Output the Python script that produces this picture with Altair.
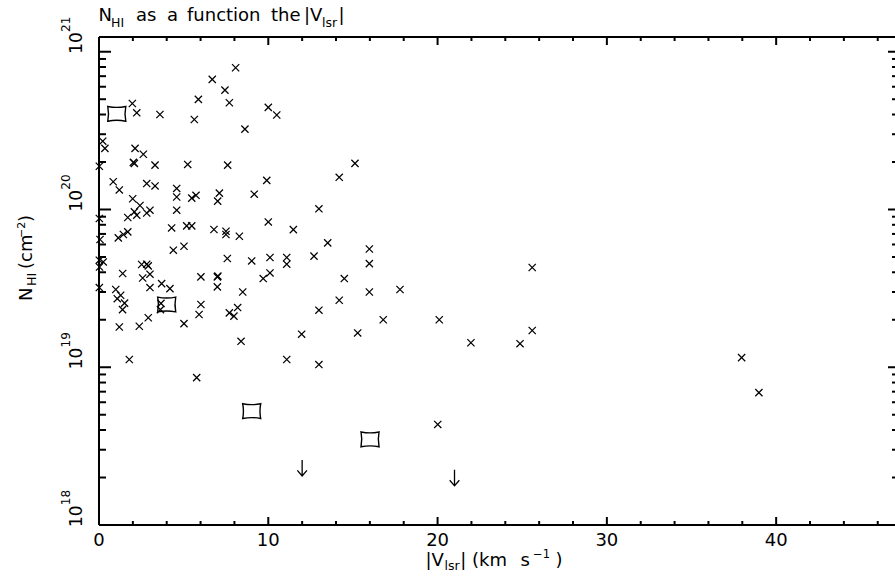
import altair as alt
import pandas as pd

FONT = "DejaVu Sans"

# ---------------- data ----------------
cross_v = [1.97, 2.23, 3.60, 0.22, 0.35, 2.13, 2.62, 2.03, 2.09, 3.31,
           0.02, 0.84, 1.20, 2.82, 3.31, 1.99, 2.42, 1.70, 2.09, 2.23,
           2.82, 3.01, 0.02, 4.59, 4.59, 4.59, 5.48, 5.73, 5.24, 5.63,
           5.87, 6.69, 7.44, 7.70, 8.07, 8.62, 7.60, 7.11, 7.01, 9.17,
           9.91, 10.00, 10.50, 10.00, 4.29, 5.18, 5.48, 6.79, 7.50, 7.50,
           8.29, 1.14, 1.44, 1.70, 0.06, 4.39, 5.02, 0.02, 0.25, 0.03,
           1.40, 2.52, 2.82, 2.91, 2.58, 3.01, 3.01, 3.70, 4.19, 0.02,
           0.99, 1.28, 1.08, 1.51, 1.39, 3.66, 3.63, 2.91, 1.20, 2.38,
           1.79, 5.02, 6.02, 6.99, 7.02, 6.99, 6.02, 5.91, 7.58, 9.02,
           10.10, 11.09, 11.09, 10.10, 9.70, 8.49, 8.19, 7.70, 7.97, 8.39,
           11.09, 5.77, 15.12, 14.19, 12.99, 11.48, 13.51, 15.97, 12.70, 15.97,
           14.49, 15.97, 17.78, 14.19, 12.99, 16.79, 20.10, 11.97, 15.28, 21.97,
           12.99, 25.59, 25.59, 24.87, 37.96, 38.98, 20.01]
cross_n = [4.7e20, 4.1e20, 4.0e20, 2.71e20, 2.44e20, 2.44e20, 2.24e20, 1.99e20, 1.96e20, 1.91e20,
           1.88e20, 1.50e20, 1.33e20, 1.46e20, 1.41e20, 1.17e20, 1.06e20, 8.9e19, 9.66e19, 9.2e19,
           9.5e19, 9.9e19, 8.77e19, 1.36e20, 1.20e20, 9.9e19, 1.18e20, 1.23e20, 1.93e20, 3.72e20,
           4.99e20, 6.68e20, 5.71e20, 4.75e20, 7.92e20, 3.23e20, 1.91e20, 1.27e20, 1.13e20, 1.25e20,
           1.53e20, 4.44e20, 3.97e20, 8.34e19, 7.64e19, 7.87e19, 7.87e19, 7.47e19, 7.28e19, 6.94e19,
           6.77e19, 6.61e19, 6.94e19, 7.21e19, 6.45e19, 5.52e19, 5.85e19, 4.77e19, 4.65e19, 4.32e19,
           3.93e19, 4.48e19, 4.50e19, 4.39e19, 3.68e19, 3.89e19, 3.20e19, 3.39e19, 3.15e19, 3.20e19,
           3.11e19, 2.86e19, 2.72e19, 2.55e19, 2.32e19, 2.54e19, 2.32e19, 2.06e19, 1.80e19, 1.82e19,
           1.12e19, 1.89e19, 3.74e19, 3.74e19, 3.78e19, 3.23e19, 2.50e19, 2.16e19, 4.89e19, 4.72e19,
           4.96e19, 4.96e19, 4.50e19, 3.96e19, 3.65e19, 3.00e19, 2.39e19, 2.21e19, 2.11e19, 1.46e19,
           1.12e19, 8.59e18, 1.96e20, 1.60e20, 1.01e20, 7.45e19, 6.14e19, 5.62e19, 5.06e19, 4.54e19,
           3.65e19, 3.00e19, 3.11e19, 2.66e19, 2.30e19, 2.00e19, 2.00e19, 1.62e19, 1.65e19, 1.43e19,
           1.04e19, 4.29e19, 1.71e19, 1.41e19, 1.15e19, 6.90e18, 4.34e18]

sq_v = [1.05, 4.00, 9.02, 16.01]
sq_n = [4.04e20, 2.50e19, 5.27e18, 3.49e18]

lim_v = [12.0, 21.0]
lim_n = [2.30e18, 1.99e18]

x_major = [0, 10, 20, 30, 40]
x_major_lbl = ["0", "10", "20", "30", "40"]
x_minor = [2, 4, 6, 8, 12, 14, 16, 18, 22, 24, 26, 28, 32, 34, 36, 38, 42, 44, 46]
y_major = [1e18, 1e19, 1e20, 1e21]
y_exp = ["18", "19", "20", "21"]
y_minor = [k * 10.0 ** d for d in (18, 19, 20) for k in range(2, 10)]

# ---------------- layout ----------------
W, H = 796, 488
OX, OY = 99, 37
FS, FSS = 18, 12.5
xs = alt.Scale(domain=[0, 47.02], nice=False, zero=False)
ys = alt.Scale(type="log", domain=[1e18, 1.24e21], nice=False)

CROSS = "M-1,-1L1,1M-1,1L1,-1"
SQUARE = "M-1,-0.82Q0,-0.62 1,-0.82Q0.84,0 1,0.82Q0,0.62 -1,0.82Q-0.84,0 -1,-0.82Z"
ARROW = "M0,-1L0,1M-0.6,0.3L0,1L0.6,0.3"

one = pd.DataFrame({"k": [0]})


def X(field="v"):
    return alt.X(f"{field}:Q", scale=xs, axis=None)


def Y(field="n"):
    return alt.Y(f"{field}:Q", scale=ys, axis=None)


def symbols(v, n, path, size, sw):
    df = pd.DataFrame({"v": v, "n": n})
    return alt.Chart(df).mark_point(shape=path, filled=False, color="black", size=size,
                                    strokeWidth=sw, opacity=1).encode(x=X(), y=Y())


def txt(s, sx, sy, size, angle=0):
    kw = dict(text=s, align="left", baseline="alphabetic", fontSize=size, font=FONT, color="black")
    if angle:
        kw["angle"] = angle
    return alt.Chart(one).mark_text(**kw).encode(x=alt.value(sx - OX), y=alt.value(sy - OY))


layers = []

# frame lines
layers.append(alt.Chart(one).mark_rule(color="black", strokeWidth=2).encode(
    x=alt.value(0), y=alt.value(0), y2=alt.value(H)))
layers.append(alt.Chart(one).mark_rule(color="black", strokeWidth=2).encode(
    y=alt.value(H), x=alt.value(0), x2=alt.value(W)))
layers.append(alt.Chart(one).mark_rule(color="black", strokeWidth=2).encode(
    y=alt.value(0), x=alt.value(0), x2=alt.value(W)))

# x ticks (bottom and top, inward)
xmaj = pd.DataFrame({"v": x_major, "lbl": x_major_lbl})
xmin = pd.DataFrame({"v": x_minor})
for df, L in ((xmaj, 8), (xmin, 4)):
    layers.append(alt.Chart(df).mark_rule(color="black", strokeWidth=2).encode(
        x=X(), y=alt.value(H - L), y2=alt.value(H)))
    layers.append(alt.Chart(df).mark_rule(color="black", strokeWidth=2).encode(
        x=X(), y=alt.value(0), y2=alt.value(L)))

# y ticks (left and right, inward)
ymaj = pd.DataFrame({"n": y_major, "e": y_exp})
ymin = pd.DataFrame({"n": y_minor})
for df, L, R in ((ymaj, 12, 7), (ymin, 7, 3)):
    layers.append(alt.Chart(df).mark_rule(color="black", strokeWidth=2).encode(
        y=Y(), x=alt.value(0), x2=alt.value(L)))
    layers.append(alt.Chart(df).mark_rule(color="black", strokeWidth=2).encode(
        y=Y(), x=alt.value(W - R), x2=alt.value(W)))

# tick labels
layers.append(alt.Chart(xmaj).mark_text(align="center", baseline="alphabetic", fontSize=FS,
                                        font=FONT, color="black").encode(
    x=X(), y=alt.value(H + 21), text="lbl:N"))
layers.append(alt.Chart(ymaj).mark_text(text="10", align="left", baseline="alphabetic", angle=270,
                                        fontSize=17, font=FONT, color="black", dx=-2).encode(
    y=Y(), x=alt.value(82 - OX)))
layers.append(alt.Chart(ymaj).mark_text(align="left", baseline="alphabetic", angle=270,
                                        fontSize=12, font=FONT, color="black", dx=19.8).encode(
    y=Y(), x=alt.value(70 - OX), text="e:N"))

# data symbols
layers.append(symbols(cross_v, cross_n, CROSS, 52, 1.25))
layers.append(symbols(sq_v, sq_n, SQUARE, 324, 1.4))
layers.append(symbols(lim_v, lim_n, ARROW, 256, 1.3))

# title  N_HI as a function the |V_lsr|
layers += [
    txt("N", 98.5, 20.5, FS), txt("HI", 111, 27.3, FSS),
    txt("as", 136, 20.5, FS), txt("a", 167, 20.5, FS),
    txt("function", 187, 20.5, FS), txt("the", 271, 20.5, FS),
    txt("|V", 304, 20.5, FS), txt("lsr", 322, 27.3, FSS), txt("|", 338.5, 20.5, FS),
]
# x title  |V_lsr| (km s^-1)
layers += [
    txt("|V", 425.5, 566, FS), txt("lsr", 444.5, 569.5, FSS), txt("|", 460.3, 566, FS),
    txt("(km", 472, 566, FS), txt("s", 520.5, 566, FS),
    txt("\u22121", 533, 558, 11.5), txt(")", 555.5, 566, FS),
]
# y title  N_HI (cm^-2), rotated
layers += [
    txt("N", 32, 301, FS, 270), txt("HI", 36, 286, FSS, 270),
    txt("(cm", 32, 269, FS, 270), txt("\u22122", 24.5, 238, 11, 270),
    txt(")", 32, 222, FS, 270),
]

chart = alt.layer(*layers).properties(
    width=W, height=H,
    padding={"left": OX, "top": OY, "right": 0, "bottom": 580 - OY - H},
    autosize=alt.AutoSizeParams(type="none"),
    background="white",
).configure_view(strokeWidth=0)

chart.save("out.html", embed_options={"renderer": "svg", "actions": False})
